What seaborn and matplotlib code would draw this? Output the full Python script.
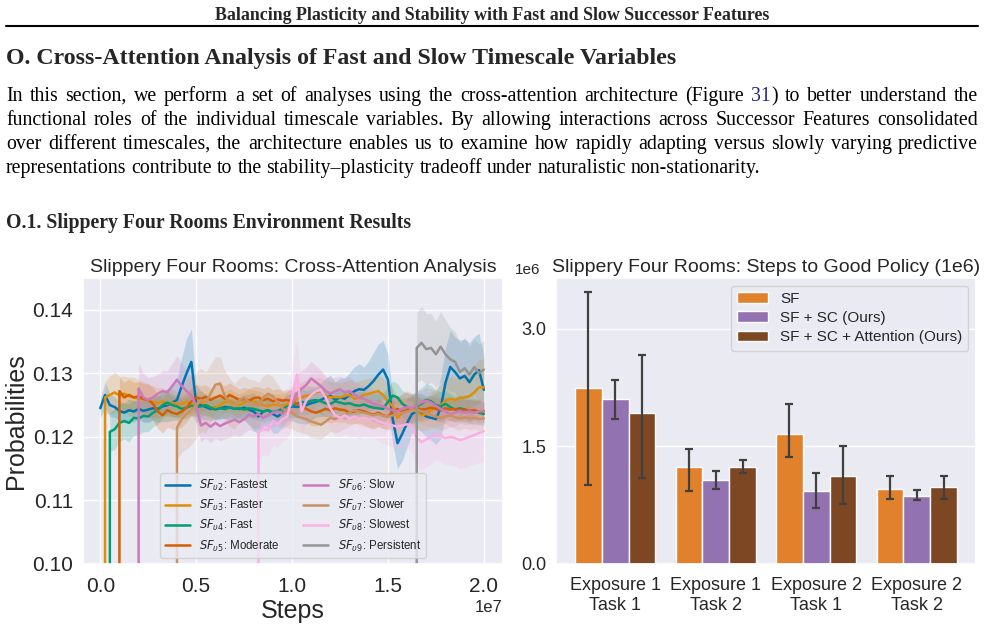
import numpy as np
import pandas as pd
import matplotlib
matplotlib.use('Agg')
import matplotlib.pyplot as plt
from matplotlib.lines import Line2D
import seaborn as sns

# ---------------------------
# Page text
header = 'Balancing Plasticity and Stability with Fast and Slow Successor Features'
heading = 'O. Cross-Attention Analysis of Fast and Slow Timescale Variables'
para = [
    'In this section, we perform a set of analyses using the cross-attention architecture (Figure',
    'functional roles of the individual timescale variables.  By allowing interactions across Successor Features consolidated',
    'over different timescales, the architecture enables us to examine how rapidly adapting versus slowly varying predictive',
    'representations contribute to the stability\u2013plasticity tradeoff under naturalistic non-stationarity.',
]
para_tail = 'to better understand the'
fig_ref = '31'
subheading = 'O.1. Slippery Four Rooms Environment Results'

# ---------------------------
# Cross-attention probabilities (x grid every 0.025e7 steps)
step_grid = np.arange(0, 81) * 2.5e5

labels = [r'$SF_{\upsilon2}$: Fastest', r'$SF_{\upsilon3}$: Faster', r'$SF_{\upsilon4}$: Fast',
          r'$SF_{\upsilon5}$: Moderate', r'$SF_{\upsilon6}$: Slow', r'$SF_{\upsilon7}$: Slower',
          r'$SF_{\upsilon8}$: Slowest', r'$SF_{\upsilon9}$: Persistent']
start_idx = [0, 1, 2, 4, 8, 16, 33, 66]

u2 = [0.1245, 0.1266, 0.1250, 0.1247, 0.1241, 0.1238, 0.1242, 0.1240, 0.1244, 0.1241,
      0.1243, 0.1245, 0.1244, 0.1248, 0.1250, 0.1254, 0.1258, 0.1280, 0.1300, 0.1318,
      0.1252, 0.1250, 0.1247, 0.1244, 0.1246, 0.1245, 0.1247, 0.1246, 0.1245, 0.1244,
      0.1246, 0.1243, 0.1240, 0.1232, 0.1240, 0.1242, 0.1236, 0.1232, 0.1238, 0.1245,
      0.1248, 0.1247, 0.1249, 0.1250, 0.1253, 0.1255, 0.1258, 0.1262, 0.1265, 0.1258,
      0.1262, 0.1260, 0.1266, 0.1272, 0.1275, 0.1274, 0.1280, 0.1288, 0.1298, 0.1306,
      0.1290, 0.1228, 0.1190, 0.1205, 0.1222, 0.1236, 0.1240, 0.1238, 0.1232, 0.1230,
      0.1228, 0.1245, 0.1285, 0.1310, 0.1302, 0.1292, 0.1296, 0.1286, 0.1298, 0.1305,
      0.1274]
u3 = [0.1262, 0.1266, 0.1270, 0.1265, 0.1268, 0.1264, 0.1262, 0.1260, 0.1259, 0.1258,
      0.1255, 0.1253, 0.1256, 0.1252, 0.1254, 0.1251, 0.1252, 0.1255, 0.1252, 0.1251,
      0.1255, 0.1250, 0.1247, 0.1245, 0.1250, 0.1255, 0.1257, 0.1252, 0.1250, 0.1254,
      0.1258, 0.1255, 0.1252, 0.1250, 0.1248, 0.1251, 0.1250, 0.1249, 0.1252, 0.1254,
      0.1260, 0.1262, 0.1265, 0.1266, 0.1270, 0.1272, 0.1265, 0.1262, 0.1263, 0.1262,
      0.1265, 0.1266, 0.1260, 0.1262, 0.1266, 0.1268, 0.1270, 0.1272, 0.1266, 0.1256,
      0.1248, 0.1230, 0.1238, 0.1245, 0.1243, 0.1240, 0.1234, 0.1236, 0.1242, 0.1246,
      0.1250, 0.1257, 0.1260, 0.1258, 0.1261, 0.1262, 0.1264, 0.1270, 0.1278, 0.1278]
u4 = [0.1208, 0.1212, 0.1222, 0.1225, 0.1222, 0.1230, 0.1229, 0.1233, 0.1232, 0.1238,
      0.1242, 0.1250, 0.1254, 0.1250, 0.1248, 0.1244, 0.1246, 0.1249, 0.1247, 0.1248,
      0.1250, 0.1246, 0.1243, 0.1245, 0.1244, 0.1246, 0.1244, 0.1245, 0.1243, 0.1245,
      0.1244, 0.1242, 0.1240, 0.1242, 0.1239, 0.1241, 0.1244, 0.1248, 0.1249, 0.1252,
      0.1255, 0.1254, 0.1257, 0.1258, 0.1256, 0.1253, 0.1252, 0.1256, 0.1254, 0.1252,
      0.1253, 0.1250, 0.1249, 0.1251, 0.1248, 0.1246, 0.1245, 0.1244, 0.1255, 0.1265,
      0.1262, 0.1252, 0.1247, 0.1244, 0.1248, 0.1252, 0.1258, 0.1256, 0.1250, 0.1248,
      0.1252, 0.1247, 0.1243, 0.1245, 0.1243, 0.1240, 0.1241, 0.1238, 0.1236]
u5 = [0.1272, 0.1262, 0.1266, 0.1262, 0.1264, 0.1260, 0.1258, 0.1252, 0.1240, 0.1234,
      0.1242, 0.1238, 0.1236, 0.1240, 0.1246, 0.1256, 0.1262, 0.1260, 0.1263, 0.1258,
      0.1262, 0.1265, 0.1260, 0.1266, 0.1262, 0.1258, 0.1260, 0.1257, 0.1261, 0.1262,
      0.1258, 0.1260, 0.1256, 0.1259, 0.1257, 0.1258, 0.1256, 0.1252, 0.1248, 0.1244,
      0.1240, 0.1238, 0.1241, 0.1244, 0.1242, 0.1245, 0.1243, 0.1242, 0.1238, 0.1240,
      0.1242, 0.1240, 0.1237, 0.1235, 0.1238, 0.1234, 0.1232, 0.1240, 0.1244, 0.1240,
      0.1242, 0.1244, 0.1245, 0.1243, 0.1244, 0.1246, 0.1244, 0.1242, 0.1245, 0.1243,
      0.1244, 0.1242, 0.1243, 0.1241, 0.1242, 0.1240, 0.1240]
u6 = [0.1276, 0.1262, 0.1258, 0.1262, 0.1268, 0.1272, 0.1270, 0.1280, 0.1290, 0.1280,
      0.1272, 0.1265, 0.1250, 0.1218, 0.1222, 0.1216, 0.1222, 0.1217, 0.1221, 0.1224,
      0.1227, 0.1223, 0.1228, 0.1235, 0.1232, 0.1236, 0.1230, 0.1234, 0.1238, 0.1240,
      0.1236, 0.1244, 0.1252, 0.1268, 0.1276, 0.1282, 0.1292, 0.1286, 0.1280, 0.1272,
      0.1268, 0.1272, 0.1275, 0.1270, 0.1272, 0.1266, 0.1262, 0.1260, 0.1256, 0.1252,
      0.1250, 0.1248, 0.1244, 0.1242, 0.1240, 0.1244, 0.1247, 0.1245, 0.1250, 0.1254,
      0.1257, 0.1254, 0.1249, 0.1244, 0.1240, 0.1236, 0.1238, 0.1241, 0.1238, 0.1240,
      0.1238, 0.1240, 0.1241]
u7 = [0.1215, 0.1228, 0.1236, 0.1242, 0.1250, 0.1258, 0.1254, 0.1268, 0.1282, 0.1284,
      0.1264, 0.1254, 0.1248, 0.1258, 0.1262, 0.1255, 0.1252, 0.1250, 0.1262, 0.1268,
      0.1264, 0.1255, 0.1245, 0.1240, 0.1238, 0.1232, 0.1230, 0.1228, 0.1224, 0.1222,
      0.1219, 0.1224, 0.1230, 0.1228, 0.1232, 0.1235, 0.1238, 0.1242, 0.1240, 0.1238,
      0.1236, 0.1234, 0.1236, 0.1233, 0.1232, 0.1234, 0.1236, 0.1238, 0.1240, 0.1242,
      0.1243, 0.1240, 0.1237, 0.1234, 0.1232, 0.1230, 0.1232, 0.1234, 0.1231, 0.1229,
      0.1231, 0.1229, 0.1230, 0.1228, 0.1229]
u8 = [0.1206, 0.1214, 0.1210, 0.1225, 0.1220, 0.1228, 0.1232, 0.1262, 0.1298, 0.1240,
      0.1258, 0.1266, 0.1272, 0.1274, 0.1262, 0.1245, 0.1234, 0.1230, 0.1234, 0.1229,
      0.1232, 0.1228, 0.1230, 0.1227, 0.1229, 0.1224, 0.1222, 0.1220, 0.1218, 0.1216,
      0.1218, 0.1220, 0.1216, 0.1198, 0.1192, 0.1196, 0.1200, 0.1204, 0.1202, 0.1198,
      0.1200, 0.1198, 0.1195, 0.1197, 0.1200, 0.1203, 0.1206, 0.1209]
u9 = [0.1340, 0.1348, 0.1338, 0.1340, 0.1330, 0.1342, 0.1330, 0.1322, 0.1318, 0.1302,
      0.1308, 0.1298, 0.1310, 0.1300, 0.1306]

# half-width of the shaded band around each curve
u2_band = [0.0015, 0.0020, 0.0018, 0.0016, 0.0015, 0.0016, 0.0018, 0.0017, 0.0016, 0.0018,
           0.0020, 0.0019, 0.0021, 0.0024, 0.0026, 0.0028, 0.0032, 0.0045, 0.0055, 0.0052,
           0.0030, 0.0022, 0.0020, 0.0018, 0.0019, 0.0017, 0.0018, 0.0020, 0.0019, 0.0018,
           0.0020, 0.0024, 0.0030, 0.0028, 0.0022, 0.0025, 0.0030, 0.0026, 0.0022, 0.0020,
           0.0022, 0.0025, 0.0028, 0.0030, 0.0027, 0.0024, 0.0026, 0.0030, 0.0032, 0.0028,
           0.0030, 0.0033, 0.0035, 0.0038, 0.0040, 0.0036, 0.0040, 0.0045, 0.0048, 0.0046,
           0.0040, 0.0038, 0.0040, 0.0042, 0.0038, 0.0030, 0.0028, 0.0030, 0.0032, 0.0035,
           0.0040, 0.0048, 0.0055, 0.0058, 0.0055, 0.0060, 0.0058, 0.0062, 0.0060, 0.0058,
           0.0055]
u3_band = [0.0025, 0.0030, 0.0032, 0.0030, 0.0028, 0.0030, 0.0032, 0.0030, 0.0028, 0.0026,
           0.0025, 0.0024, 0.0022, 0.0020, 0.0022, 0.0020, 0.0018, 0.0020, 0.0019, 0.0018,
           0.0018, 0.0017, 0.0018, 0.0019, 0.0018, 0.0017, 0.0018, 0.0019, 0.0018, 0.0017,
           0.0018, 0.0019, 0.0020, 0.0019, 0.0018, 0.0017, 0.0018, 0.0019, 0.0020, 0.0021,
           0.0022, 0.0024, 0.0025, 0.0024, 0.0023, 0.0022, 0.0024, 0.0025, 0.0024, 0.0023,
           0.0022, 0.0024, 0.0025, 0.0026, 0.0025, 0.0024, 0.0023, 0.0025, 0.0026, 0.0028,
           0.0030, 0.0032, 0.0030, 0.0028, 0.0026, 0.0025, 0.0024, 0.0026, 0.0028, 0.0030,
           0.0032, 0.0034, 0.0035, 0.0034, 0.0036, 0.0038, 0.0040, 0.0042, 0.0044, 0.0045]
u4_band = [0.0030, 0.0032, 0.0030, 0.0028, 0.0030, 0.0028, 0.0026, 0.0025, 0.0024, 0.0022,
           0.0022, 0.0020, 0.0019, 0.0018, 0.0017, 0.0016, 0.0017, 0.0016, 0.0015, 0.0016,
           0.0015, 0.0014, 0.0015, 0.0016, 0.0015, 0.0014, 0.0015, 0.0016, 0.0015, 0.0014,
           0.0015, 0.0016, 0.0017, 0.0016, 0.0015, 0.0016, 0.0017, 0.0018, 0.0019, 0.0020,
           0.0020, 0.0019, 0.0018, 0.0019, 0.0020, 0.0021, 0.0020, 0.0019, 0.0018, 0.0019,
           0.0020, 0.0021, 0.0022, 0.0021, 0.0020, 0.0022, 0.0024, 0.0025, 0.0024, 0.0023,
           0.0022, 0.0021, 0.0022, 0.0023, 0.0024, 0.0025, 0.0026, 0.0025, 0.0024, 0.0023,
           0.0022, 0.0021, 0.0020, 0.0021, 0.0020, 0.0019, 0.0020, 0.0019, 0.0018]
u5_band = [0.0022, 0.0024, 0.0025, 0.0024, 0.0023, 0.0024, 0.0025, 0.0026, 0.0027, 0.0028,
           0.0027, 0.0026, 0.0025, 0.0024, 0.0023, 0.0022, 0.0021, 0.0020, 0.0019, 0.0018,
           0.0018, 0.0019, 0.0020, 0.0019, 0.0018, 0.0017, 0.0018, 0.0019, 0.0018, 0.0017,
           0.0018, 0.0019, 0.0018, 0.0017, 0.0016, 0.0017, 0.0018, 0.0019, 0.0020, 0.0021,
           0.0022, 0.0021, 0.0020, 0.0019, 0.0020, 0.0021, 0.0020, 0.0019, 0.0018, 0.0019,
           0.0020, 0.0021, 0.0022, 0.0023, 0.0022, 0.0021, 0.0020, 0.0019, 0.0020, 0.0021,
           0.0020, 0.0019, 0.0018, 0.0019, 0.0018, 0.0017, 0.0018, 0.0019, 0.0018, 0.0017,
           0.0018, 0.0017, 0.0016, 0.0017, 0.0016, 0.0017, 0.0016]
u6_band = [0.0040, 0.0038, 0.0035, 0.0033, 0.0030, 0.0032, 0.0034, 0.0036, 0.0038, 0.0036,
           0.0033, 0.0030, 0.0028, 0.0026, 0.0024, 0.0025, 0.0024, 0.0023, 0.0024, 0.0025,
           0.0024, 0.0023, 0.0022, 0.0023, 0.0024, 0.0023, 0.0022, 0.0021, 0.0022, 0.0023,
           0.0024, 0.0026, 0.0028, 0.0030, 0.0029, 0.0028, 0.0027, 0.0026, 0.0025, 0.0024,
           0.0023, 0.0022, 0.0021, 0.0022, 0.0023, 0.0022, 0.0021, 0.0020, 0.0021, 0.0022,
           0.0021, 0.0020, 0.0021, 0.0022, 0.0023, 0.0024, 0.0023, 0.0022, 0.0021, 0.0020,
           0.0021, 0.0022, 0.0021, 0.0020, 0.0019, 0.0020, 0.0021, 0.0020, 0.0019, 0.0020,
           0.0019, 0.0020, 0.0019]
u7_band = [0.0050, 0.0052, 0.0055, 0.0054, 0.0052, 0.0050, 0.0048, 0.0046, 0.0044, 0.0042,
           0.0040, 0.0038, 0.0036, 0.0035, 0.0034, 0.0036, 0.0038, 0.0036, 0.0034, 0.0032,
           0.0030, 0.0028, 0.0027, 0.0026, 0.0025, 0.0024, 0.0023, 0.0024, 0.0025, 0.0024,
           0.0023, 0.0022, 0.0021, 0.0022, 0.0023, 0.0022, 0.0021, 0.0020, 0.0021, 0.0022,
           0.0021, 0.0020, 0.0019, 0.0020, 0.0021, 0.0022, 0.0021, 0.0020, 0.0019, 0.0020,
           0.0021, 0.0020, 0.0019, 0.0018, 0.0019, 0.0020, 0.0019, 0.0018, 0.0019, 0.0018,
           0.0017, 0.0018, 0.0017, 0.0018, 0.0017]
u8_band = [0.0040, 0.0042, 0.0040, 0.0038, 0.0036, 0.0035, 0.0034, 0.0045, 0.0055, 0.0040,
           0.0036, 0.0034, 0.0032, 0.0030, 0.0032, 0.0034, 0.0032, 0.0030, 0.0029, 0.0030,
           0.0031, 0.0032, 0.0030, 0.0029, 0.0030, 0.0031, 0.0032, 0.0033, 0.0034, 0.0035,
           0.0036, 0.0038, 0.0040, 0.0042, 0.0044, 0.0043, 0.0042, 0.0040, 0.0041, 0.0042,
           0.0043, 0.0044, 0.0045, 0.0046, 0.0045, 0.0046, 0.0047, 0.0048]
u9_band = [0.0055, 0.0058, 0.0056, 0.0054, 0.0052, 0.0055, 0.0054, 0.0050, 0.0048, 0.0046,
           0.0048, 0.0045, 0.0044, 0.0046, 0.0045]

series = [u2, u3, u4, u5, u6, u7, u8, u9]
bands = [u2_band, u3_band, u4_band, u5_band, u6_band, u7_band, u8_band, u9_band]

# ---------------------------
# Steps to good policy
groups = ['Exposure 1\nTask 1', 'Exposure 1\nTask 2', 'Exposure 2\nTask 1', 'Exposure 2\nTask 2']
methods = ['SF', 'SF + SC (Ours)', 'SF + SC + Attention (Ours)']
sf_mean = [2.24, 1.23, 1.65, 0.95]
sf_lo = [1.01, 0.93, 1.36, 0.83]
sf_hi = [3.47, 1.47, 2.04, 1.115]
sc_mean = [2.10, 1.07, 0.93, 0.86]
sc_lo = [1.85, 0.955, 0.71, 0.81]
sc_hi = [2.34, 1.19, 1.16, 0.94]
att_mean = [1.93, 1.23, 1.12, 0.98]
att_lo = [1.09, 1.16, 0.77, 0.83]
att_hi = [2.66, 1.33, 1.50, 1.115]

# ---------------------------
sns.set_theme(style='darkgrid')
plt.rcParams['font.family'] = ['Liberation Sans', 'DejaVu Sans']

W, H = 985, 624
fig = plt.figure(figsize=(W / 100, H / 100), dpi=100)
renderer = fig.canvas.get_renderer()
serif = 'Liberation Serif'

fig.text(492 / W, 1 - 20 / H, header, ha='center', va='baseline', fontsize=12.9,
         fontweight='bold', family=serif)
fig.add_artist(Line2D([6 / W, 978 / W], [1 - 25.5 / H] * 2, color='black', lw=1.5))
fig.text(6 / W, 1 - 64 / H, heading, ha='left', va='baseline', fontsize=17.2,
         fontweight='bold', family=serif)
fig.text(6 / W, 1 - 228 / H, subheading, ha='left', va='baseline', fontsize=14.2,
         fontweight='bold', family=serif)


def page_line(words, y, justify=True, size=14.3):
    placed = []
    for w in words:
        parts = [(w, 'black')] if isinstance(w, str) else w
        arts = [fig.text(0, 1 - y / H, s, color=c, fontsize=size, family=serif, va='baseline')
                for s, c in parts]
        widths = [a.get_window_extent(renderer).width for a in arts]
        placed.append((arts, widths))
    total = sum(sum(wd) for _, wd in placed)
    gap = (972 - total) / (len(placed) - 1) if justify else size * 100 / 72 * 0.25
    x = 6
    for arts, widths in placed:
        for a, wd in zip(arts, widths):
            a.set_x(x / W)
            x += wd
        x += gap


line1 = para[0].split() + [[(fig_ref, '#22228b'), (')', 'black')]] + para_tail.split()
page_line(line1, 101)
page_line(para[1].split(), 125)
page_line(para[2].split(), 149)
page_line(para[3].split(), 173, justify=False)

# ---------------------------
# Left: cross-attention probabilities
ax1 = fig.add_axes([83 / W, 60 / H, 420 / W, 286 / H])
colors = sns.color_palette('colorblind', 8)
for vals, band, s0, c, lab in zip(series, bands, start_idx, colors, labels):
    x = step_grid[s0:s0 + len(vals)]
    v = np.array(vals)
    b = np.array(band)
    ax1.fill_between(x, v - b, v + b, color=c, alpha=0.2, lw=0)
    if s0 > 0:
        # curve rises from zero when the variable is switched on
        x = np.concatenate([[x[0]], x])
        v = np.concatenate([[0.0], v])
    sns.lineplot(x=x, y=v, color=c, lw=1.8, label=lab, estimator=None, sort=False, ax=ax1)

ax1.set_xlim(-0.09e7, 2.1e7)
ax1.set_ylim(0.10, 0.145)
ax1.set_xticks([0, 0.5e7, 1.0e7, 1.5e7, 2.0e7])
ax1.set_yticks([0.10, 0.11, 0.12, 0.13, 0.14])
ax1.tick_params(labelsize=15)
ax1.tick_params(axis='y', pad=1)
ax1.xaxis.get_offset_text().set_fontsize(12)
ax1.set_xlabel('Steps', fontsize=18, labelpad=2)
ax1.set_ylabel('Probabilities', fontsize=18, labelpad=3)
ax1.set_title('Slippery Four Rooms: Cross-Attention Analysis', fontsize=14, pad=4)
ax1.legend(loc='lower center', ncol=2, fontsize=8.3, handlelength=2.2, labelspacing=0.45)

# ---------------------------
# Right: steps to good policy
ax2 = fig.add_axes([556 / W, 60 / H, 420 / W, 286 / H])
bar_df = pd.DataFrame({
    'group': groups * 3,
    'method': [m for m in methods for _ in groups],
    'steps': np.array(sf_mean + sc_mean + att_mean) * 1e6,
})
sns.barplot(data=bar_df, x='group', y='steps', hue='method',
            palette=['tab:orange', 'tab:purple', 'saddlebrown'], errorbar=None, ax=ax2)
for cont, mean, lo, hi in zip(ax2.containers, [sf_mean, sc_mean, att_mean],
                              [sf_lo, sc_lo, att_lo], [sf_hi, sc_hi, att_hi]):
    cx = [b.get_x() + b.get_width() / 2 for b in cont]
    m = np.array(mean) * 1e6
    yerr = [m - np.array(lo) * 1e6, np.array(hi) * 1e6 - m]
    ax2.errorbar(cx, m, yerr=yerr, fmt='none', ecolor='#404040', elinewidth=1.6,
                 capsize=3, capthick=1.6)
ax2.set_yticks([0, 1.5e6, 3.0e6])
ax2.tick_params(labelsize=13)
ax2.tick_params(axis='y', pad=1)
ax2.yaxis.get_offset_text().set_fontsize(11)
ax2.yaxis.get_offset_text().set_x(-0.098)
ax2.set_xlabel('')
ax2.set_ylabel('')
ax2.set_title('Slippery Four Rooms: Steps to Good Policy (1e6)', fontsize=14, pad=4)
ax2.legend(loc='upper right', fontsize=11, labelspacing=0.35)

fig.savefig('out.png', dpi=100)
